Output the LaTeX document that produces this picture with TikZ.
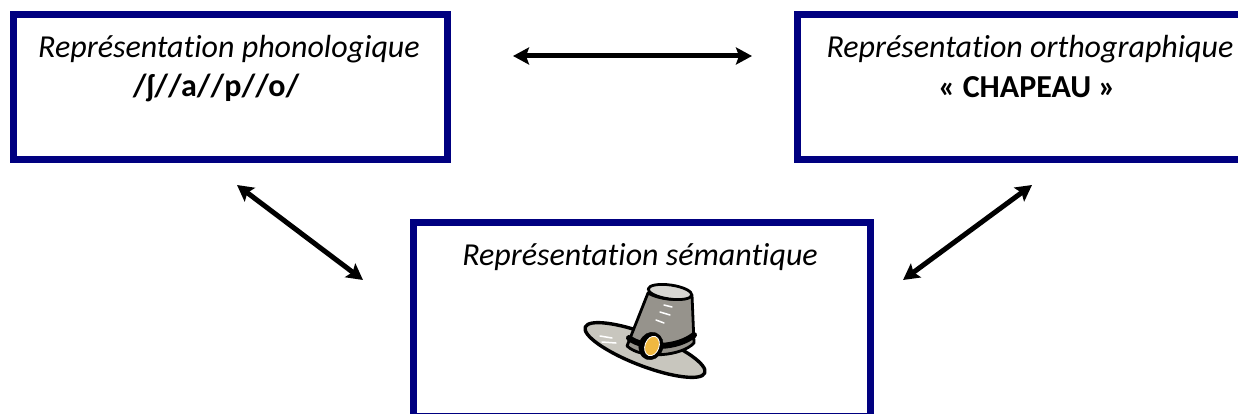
\documentclass[tikz,border=0pt]{standalone}
\usepackage{fontspec}
\setmainfont[Ligatures=NoCommon]{Carlito}
\usetikzlibrary{arrows.meta}
\definecolor{boxblue}{RGB}{0,0,128}
\definecolor{brimgray}{RGB}{200,198,190}
\definecolor{crowngray}{RGB}{150,147,140}
\definecolor{topgray}{RGB}{215,214,210}
\definecolor{buckle}{RGB}{240,184,64}
\begin{document}
\begin{tikzpicture}[x=1pt,y=-1pt,
  repbox/.style={draw=boxblue, line width=7pt, rectangle, inner sep=0pt, fill=white},
  title/.style={font=\fontsize{32}{34}\selectfont\itshape, anchor=base, inner sep=0pt},
  word/.style={font=\fontsize{32}{34}\selectfont\bfseries, anchor=base, inner sep=0pt},
  link/.style={line width=5pt, {Stealth[length=16pt,width=17pt,inset=3pt]}-{Stealth[length=16pt,width=17pt,inset=3pt]}},
  hatline/.style={draw=black, line width=2.8pt, line join=round}]
\clip (0,0) rectangle (1238,414);
\fill[white] (0,0) rectangle (1238,414);

% the three representation boxes
\node[repbox, minimum width=434pt, minimum height=145pt] (phono) at (230.5,87) {};
\node[repbox, minimum width=462pt, minimum height=145pt] (ortho) at (1028.5,87) {};
\node[repbox, minimum width=457pt, minimum height=194pt] (sem) at (642,319.5) {};

% texts
\node[title] (phonoT) at (229,58) {Représentation phonologique};
\node[word]  (phonoW) at (216,97) {/ʃ//a//p//o/};
\node[title] (orthoT) at (1030,58) {Représentation orthographique};
\node[word]  (orthoW) at (1027,98) {« CHAPEAU »};
\node[title] (semT)   at (640,265) {Représentation sémantique};

% connectors between the representations
\coordinate (h1) at (513,56);
\coordinate (h2) at (752,56);
\coordinate (l1) at (237,185);
\coordinate (l2) at (363,280);
\coordinate (r1) at (1032,185);
\coordinate (r2) at (903,280);
\draw[link] (h1) -- (h2);
\draw[link] (l1) -- (l2);
\draw[link] (r1) -- (r2);

% hat drawing
\begin{scope}
  % brim
  \filldraw[hatline, fill=brimgray, line width=3.4pt] (645,350) ellipse [x radius=64pt, y radius=16pt, rotate=-21];
  \draw[white, line width=1.5pt, line cap=round] (600,336) -- (612,338);
  \draw[white, line width=1.5pt, line cap=round] (602,342) -- (616,343);
  % crown
  \filldraw[hatline, fill=crowngray]
    (627,346) -- (648,293)
    .. controls (660,300) and (682,302) .. (692,295)
    -- (694,343)
    .. controls (682,356) and (642,360) .. (627,346) -- cycle;
  \draw[white, line width=1.5pt, line cap=round] (664,305) -- (672,307);
  \draw[white, line width=1.5pt, line cap=round] (660,312) -- (670,315);
  \draw[white, line width=1.5pt, line cap=round] (656,320) -- (664,323);
  % crown top
  \filldraw[hatline, fill=topgray] (670,292) ellipse [x radius=22pt, y radius=7pt, rotate=-8];
  % band
  \draw[black, line width=6pt, line cap=round] (629,338) .. controls (645,350) and (678,348) .. (694,335);
  % buckle
  \filldraw[black] (651,346) ellipse [x radius=12pt, y radius=14pt, rotate=-20];
  \filldraw[fill=buckle, draw=white, line width=0.8pt] (652,346) ellipse [x radius=7pt, y radius=10pt, rotate=-20];
\end{scope}
\end{tikzpicture}
\end{document}
